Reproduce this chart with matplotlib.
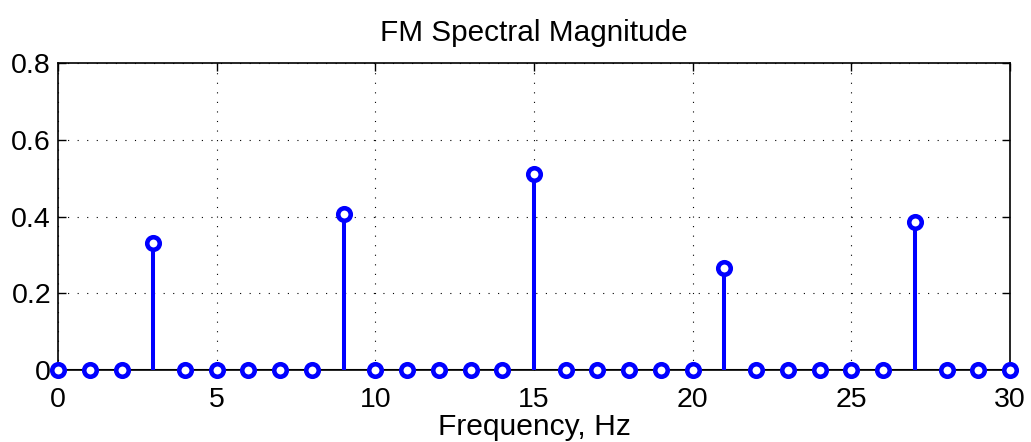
import matplotlib
matplotlib.use("Agg")
import matplotlib.pyplot as plt
import numpy as np

# FM spectrum: carrier/sideband lines at multiples of 3 Hz, zeros elsewhere
freq_hz = np.arange(0, 31)
peak_freqs = [3, 9, 15, 21, 27]
peak_mags = [0.331, 0.406, 0.511, 0.266, 0.387]

mag = np.zeros(len(freq_hz))
for f, m in zip(peak_freqs, peak_mags):
    mag[f] = m

plt.rcParams["font.family"] = ["Liberation Sans", "DejaVu Sans"]

fig = plt.figure(figsize=(10.31, 4.42), dpi=100)
ax = fig.add_axes([0.0563, 0.163, 0.9233, 0.694])

blue = "#0000ff"
ax.vlines(freq_hz, 0, mag, color=blue, lw=2.9, zorder=3)
ax.plot(freq_hz, mag, "o", ms=9, mfc="white", mec=blue, mew=3.3,
        zorder=4, clip_on=False)
ax.axhline(0, color="black", lw=1.5, zorder=2)

ax.set_xlim(0, 30)
ax.set_ylim(0, 0.8)
ax.set_xticks(range(0, 31, 5))
ax.set_yticks([0, 0.2, 0.4, 0.6, 0.8])
ax.set_yticklabels(["0", "0.2", "0.4", "0.6", "0.8"])
ax.tick_params(direction="in", length=6, width=1, labelsize=20.5,
               top=True, right=True)
ax.tick_params(axis="x", pad=12)
ax.tick_params(axis="y", pad=5)
for s in ax.spines.values():
    s.set_linewidth(1.2)

ax.grid(True, linestyle=(0, (1, 7.6)), color="black", lw=0.8)
ax.set_axisbelow(True)

ax.set_title("FM Spectral Magnitude", fontsize=21.4, pad=16)
ax.set_xlabel("Frequency, Hz", fontsize=21.6, labelpad=0.5)

fig.savefig("out.png", dpi=100)
